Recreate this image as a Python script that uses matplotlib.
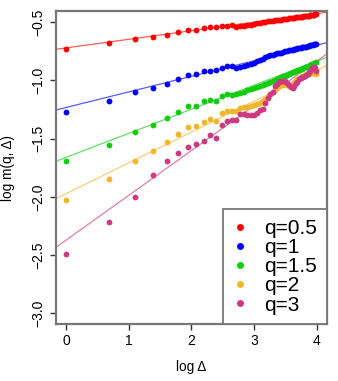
import numpy as np
import matplotlib
matplotlib.use("Agg")
import matplotlib.pyplot as plt
from matplotlib.lines import Line2D

plt.rcParams['font.family'] = ['Liberation Sans', 'DejaVu Sans']

delta = np.arange(1, 55)
log_delta = np.log(delta)

labels = ["q=0.5", "q=1", "q=1.5", "q=2", "q=3"]
colors = ["#FF0000", "#0000FF", "#11CC11", "#F2B62B", "#CD3A80"]

q05 = [-0.729, -0.678, -0.643, -0.624, -0.606, -0.586, -0.569, -0.566, -0.546, -0.543,
       -0.540, -0.532, -0.529, -0.527, -0.538, -0.535, -0.530, -0.525, -0.522, -0.518,
       -0.510, -0.506, -0.500, -0.495, -0.490, -0.488, -0.486, -0.484, -0.482, -0.480,
       -0.478, -0.475, -0.472, -0.470, -0.467, -0.464, -0.462, -0.460, -0.458, -0.457,
       -0.455, -0.453, -0.452, -0.450, -0.448, -0.447, -0.445, -0.443, -0.441, -0.438,
       -0.436, -0.434, -0.432, -0.430]
q1 = [-1.271, -1.173, -1.099, -1.064, -1.027, -0.984, -0.950, -0.943, -0.918, -0.916,
      -0.910, -0.890, -0.877, -0.876, -0.890, -0.880, -0.872, -0.868, -0.862, -0.850,
      -0.835, -0.825, -0.812, -0.800, -0.790, -0.784, -0.778, -0.773, -0.768, -0.764,
      -0.760, -0.755, -0.750, -0.746, -0.742, -0.738, -0.734, -0.730, -0.727, -0.724,
      -0.721, -0.719, -0.716, -0.713, -0.711, -0.708, -0.705, -0.702, -0.698, -0.695,
      -0.692, -0.689, -0.686, -0.684]
q15 = [-1.694, -1.554, -1.442, -1.382, -1.322, -1.271, -1.222, -1.216, -1.176, -1.168,
       -1.172, -1.130, -1.120, -1.125, -1.118, -1.105, -1.095, -1.082, -1.072, -1.062,
       -1.055, -1.045, -1.035, -1.026, -1.018, -1.010, -1.002, -0.996, -0.988, -0.980,
       -0.972, -0.965, -0.960, -0.952, -0.945, -0.938, -0.930, -0.925, -0.920, -0.914,
       -0.908, -0.902, -0.897, -0.892, -0.888, -0.882, -0.877, -0.872, -0.866, -0.860,
       -0.855, -0.851, -0.848, -0.845]
q2 = [-2.027, -1.843, -1.692, -1.603, -1.526, -1.462, -1.402, -1.391, -1.354, -1.333,
      -1.348, -1.282, -1.262, -1.262, -1.262, -1.240, -1.230, -1.225, -1.222, -1.212,
      -1.204, -1.190, -1.182, -1.160, -1.140, -1.118, -1.100, -1.085, -1.065, -1.050,
      -1.040, -1.035, -1.033, -1.040, -1.050, -1.055, -1.040, -1.010, -0.995, -0.985,
      -0.978, -0.972, -0.965, -0.958, -0.952, -0.948, -0.944, -0.940, -0.938, -0.936,
      -0.935, -0.936, -0.938, -0.940]
q3 = [-2.490, -2.218, -2.005, -1.814, -1.692, -1.625, -1.569, -1.546, -1.520, -1.466,
      -1.497, -1.382, -1.345, -1.342, -1.339, -1.290, -1.288, -1.294, -1.300, -1.296,
      -1.282, -1.255, -1.242, -1.190, -1.153, -1.115, -1.100, -1.050, -1.030, -1.012,
      -1.008, -1.004, -1.008, -1.020, -1.040, -1.055, -1.067, -1.050, -1.024, -1.010,
      -0.990, -0.981, -0.972, -0.967, -0.958, -0.953, -0.945, -0.930, -0.918, -0.905,
      -0.885, -0.880, -0.890, -0.920]
series = [q05, q1, q15, q2, q3]

# fitted regression lines (intercept, slope)
intercepts = [-0.720, -1.232, -1.661, -1.973, -2.372]
slopes = [0.0737, 0.134, 0.207, 0.265, 0.385]

xticks = [0, 1, 2, 3, 4]
yticks = [-3.0, -2.5, -2.0, -1.5, -1.0, -0.5]

fig = plt.figure(figsize=(3.38, 3.81), dpi=100)
ax = fig.add_axes([56/338, 57/381, 270.7/338, 313/381])

for y, b, m, c in zip(series, intercepts, slopes, colors):
    ax.axline((0, b), slope=m, color=c, lw=0.9, alpha=0.65, zorder=2)
    ax.plot(log_delta, y, 'o', color=c, ms=4.2, mec='none', zorder=3)

ax.set_xlim(-0.159, 4.155)
ax.set_ylim(-3.092, -0.403)
ax.set_xticks(xticks)
ax.set_xticklabels([f"{t:g}" for t in xticks])
ax.set_yticks(yticks)
ax.set_yticklabels([f"{t:.1f}".replace("-", "\u2212") for t in yticks],
                   rotation=90, va='center')
ax.tick_params(direction='out', length=4, width=1, color='#333333',
               labelsize=10, pad=3.5)
ax.tick_params(axis='y', pad=4)
for s in ax.spines.values():
    s.set_color('#777777')
    s.set_linewidth(1.6)

ax.set_xlabel("log \u0394", fontsize=9.8)
ax.set_ylabel("log m(q, \u0394)", fontsize=9.8)
ax.xaxis.set_label_coords(0.5, -0.115)
ax.yaxis.set_label_coords(-0.152, 0.5)

handles = [Line2D([], [], marker='o', ls='none', color=c, ms=5.0, mec='none')
           for c in colors]
leg = ax.legend(handles, labels, loc='lower right', bbox_to_anchor=(1, 0),
                borderaxespad=0, fontsize=15, labelspacing=0.01,
                handlelength=0.67, handletextpad=0.85, borderpad=0.45,
                fancybox=False, framealpha=1, edgecolor='#777777')
leg.get_frame().set_linewidth(1.3)

fig.savefig("out.png", dpi=100)
